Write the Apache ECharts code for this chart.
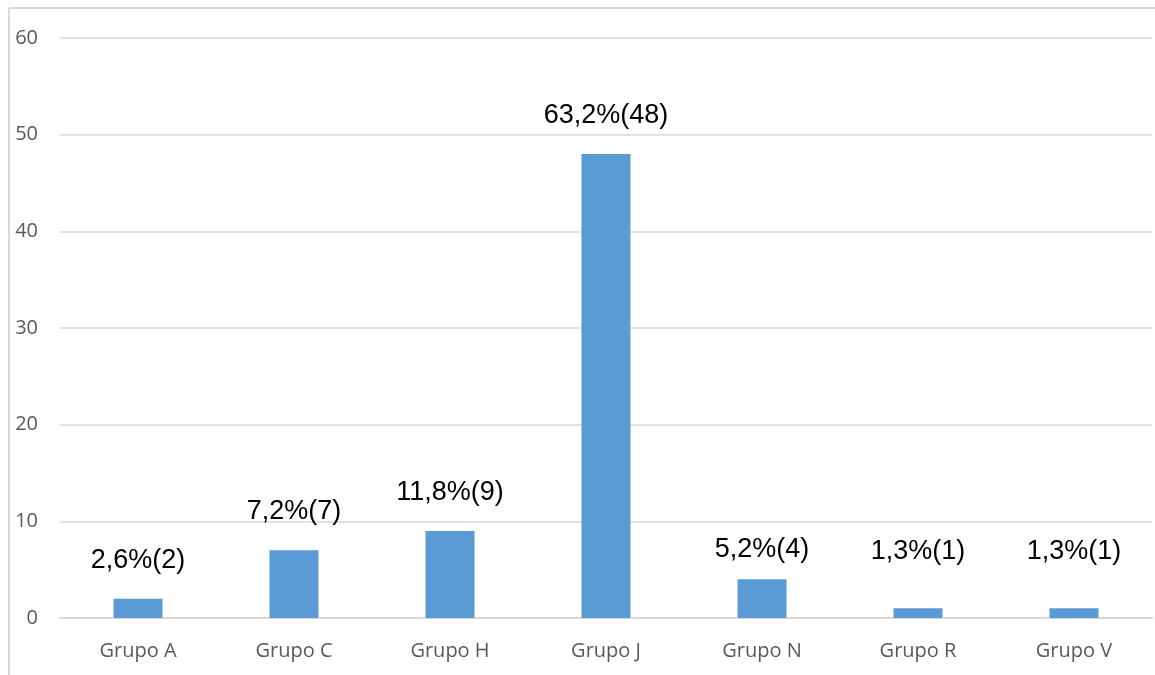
<!DOCTYPE html>
<html>
<head>
<meta charset="utf-8">
<script src="https://cdn.jsdelivr.net/npm/echarts@6/dist/echarts.min.js"></script>
<style>
html,body{margin:0;padding:0;background:#fff;}
#chart{width:1155px;height:675px;}
</style>
</head>
<body>
<div id="chart"></div>
<script>
const categories = ['Grupo A', 'Grupo C', 'Grupo H', 'Grupo J', 'Grupo N', 'Grupo R', 'Grupo V'];
const counts = [2, 7, 9, 48, 4, 1, 1];
const percentLabels = ['2,6%', '7,2%', '11,8%', '63,2%', '5,2%', '1,3%', '1,3%'];
const yTicks = { min: 0, max: 60, interval: 10 };

// label vertical nudges (px) to mirror the manually placed labels of the original
const labelNudge = [0, 0, 0, 0, 9, -18, -18];

const chart = echarts.init(document.getElementById('chart'));
chart.setOption({
  animation: false,
  backgroundColor: '#ffffff',
  grid: { left: 60, right: 3, top: 38, bottom: 57, containLabel: false },
  graphic: [
    { type: 'line', shape: { x1: 9, y1: 8, x2: 9, y2: 675 }, style: { stroke: '#d9d9d9', lineWidth: 2 } },
    { type: 'line', shape: { x1: 9, y1: 8, x2: 1155, y2: 8 }, style: { stroke: '#d9d9d9', lineWidth: 2 } }
  ],
  xAxis: {
    type: 'category',
    data: categories,
    axisLine: { show: true, lineStyle: { color: '#d9d9d9', width: 2 } },
    axisTick: { show: false },
    axisLabel: { color: '#595959', fontFamily: 'Open Sans', fontSize: 20, margin: 23 }
  },
  yAxis: {
    type: 'value',
    min: yTicks.min, max: yTicks.max, interval: yTicks.interval,
    axisLine: { show: false },
    axisTick: { show: false },
    splitLine: { lineStyle: { color: '#d9d9d9', width: 1.5 } },
    axisLabel: { color: '#595959', fontFamily: 'Open Sans', fontSize: 20, margin: 22 }
  },
  series: [{
    type: 'bar',
    barWidth: '31.4%',
    itemStyle: { color: '#5b9bd5' },
    data: counts.map((v, i) => ({
      value: v,
      label: { offset: [0, labelNudge[i]] }
    })),
    label: {
      show: true,
      position: 'top',
      distance: 25,
      color: '#000000',
      fontFamily: 'Liberation Sans',
      fontSize: 27,
      formatter: p => percentLabels[p.dataIndex] + '(' + counts[p.dataIndex] + ')'
    }
  }]
});
</script>
</body>
</html>
